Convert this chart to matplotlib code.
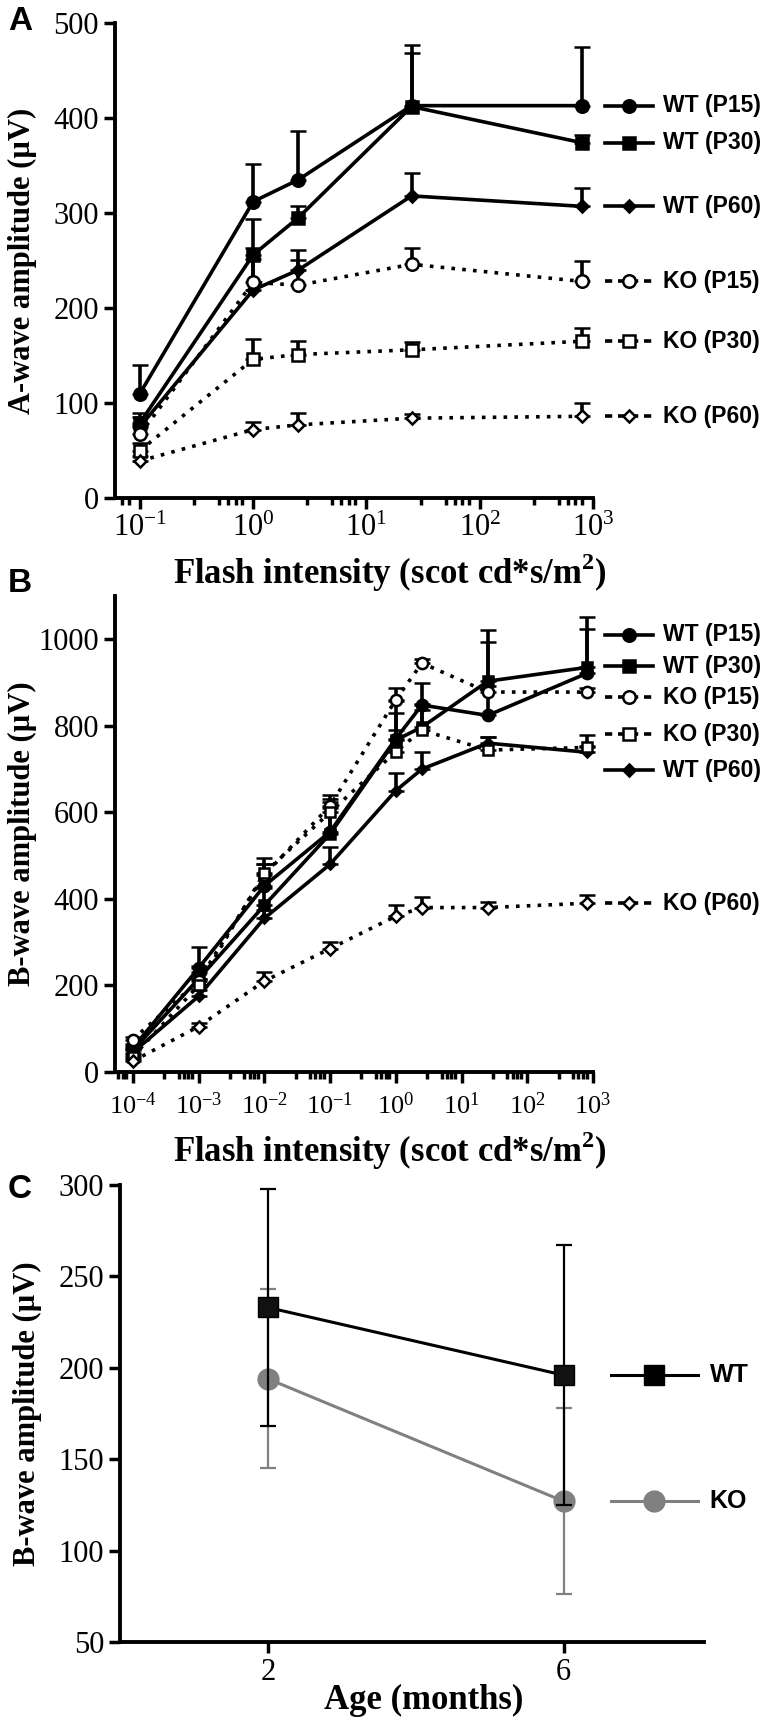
import numpy as np
import matplotlib
matplotlib.use("Agg")
import matplotlib.pyplot as plt
from matplotlib.ticker import LogLocator, NullFormatter, FixedLocator
from matplotlib.transforms import blended_transform_factory

plt.rcParams['font.family'] = ['Liberation Serif', 'DejaVu Serif']
plt.rcParams['mathtext.fontset'] = 'custom'
plt.rcParams['mathtext.rm'] = 'Liberation Serif'
plt.rcParams['mathtext.bf'] = 'Liberation Serif:bold'

# ---- panel A: a-wave vs flash intensity ----
a_x = [0.1, 1, 2.5, 25, 800]
a_wt15 = [110, 312, 335, 413, 413]
a_wt15_err = [30, 40, 51, 64, 62]
a_wt30 = [79, 256, 295, 412, 374]
a_wt30_err = [10, 38, 12, 56, 8]
a_wt60 = [75, 219, 240, 318, 307]
a_wt60_err = [10, 33, 21, 24, 19]
a_ko15 = [67, 227, 224, 246, 228]
a_ko15_err = [10, 36, 27, 17, 21]
a_ko30 = [50, 146, 151, 156, 165]
a_ko30_err = [8, 21, 14, 8, 14]
a_ko60 = [39, 72, 77, 84, 86]
a_ko60_err = [5, 8, 12, 4, 14]

# ---- panel B: b-wave vs flash intensity ----
b_x = [1e-4, 1e-3, 1e-2, 1e-1, 1, 2.5, 25, 800]
b_wt15 = [55, 240, 430, 555, 770, 848, 824, 921]
b_wt15_err = [10, 50, 65, 70, 60, 50, 170, 130]
b_wt30 = [50, 215, 385, 550, 767, 797, 903, 935]
b_wt30_err = [10, 30, 40, 60, 90, 40, 118, 88]
b_wt60 = [45, 175, 355, 480, 650, 700, 760, 739]
b_wt60_err = [8, 15, 20, 40, 40, 40, 15, 15]
b_ko15 = [75, 210, 455, 615, 860, 945, 878, 878]
b_ko15_err = [5, 20, 25, 25, 27, 9, 15, 10]
b_ko30 = [35, 200, 460, 600, 740, 790, 744, 750]
b_ko30_err = [5, 15, 20, 30, 50, 60, 30, 28]
b_ko60 = [25, 105, 210, 285, 360, 380, 380, 390]
b_ko60_err = [5, 8, 22, 15, 25, 25, 12, 18]

# ---- panel C: b-wave vs age ----
c_age = [2, 6]
c_wt = [233, 196]
c_wt_err = [65, 71]
c_ko = [194, 127]
c_ko_err = [49, 51]

group_names = ['WT (P15)', 'WT (P30)', 'WT (P60)', 'KO (P15)', 'KO (P30)', 'KO (P60)']

LW = 2.6
solid = dict(color='black', linestyle='-', linewidth=LW)
dotted = dict(color='black', linestyle=(0, (1, 2)), linewidth=LW)
styles = [
    dict(marker='o', mfc='black', ms=9, **solid),
    dict(marker='s', mfc='black', ms=8, **solid),
    dict(marker='D', mfc='black', ms=6, **solid),
    dict(marker='o', mfc='white', ms=9, **dotted),
    dict(marker='s', mfc='white', ms=8, **dotted),
    dict(marker='D', mfc='white', ms=6.5, **dotted),
]

sans_bold = dict(family=['Liberation Sans'], weight='bold')
TICK_FS = 22
YLABEL_FS = 22
XLABEL_FS = 25


def style_axes(ax):
    for s in ['top', 'right']:
        ax.spines[s].set_visible(False)
    for s in ['left', 'bottom']:
        ax.spines[s].set_linewidth(2.8)
    ax.tick_params(which='major', direction='out', length=8, width=2.5, labelsize=TICK_FS)
    ax.tick_params(which='minor', direction='out', length=5, width=2.5)


def draw_series(ax, x, ys, errs, ms_scale=1.0):
    for y, e, st in zip(ys, errs, styles):
        st = dict(st)
        st['ms'] = st['ms'] * ms_scale
        ax.errorbar(x, y, yerr=[np.zeros(len(e)), e], ecolor='black', elinewidth=LW,
                    capsize=6, capthick=LW, mec='black', mew=1.8, clip_on=False,
                    zorder=3, **st)


def end_label(ax, y, text, st, x0, x1, xt, fs=16.5):
    tr = blended_transform_factory(ax.transAxes, ax.transData)
    ls = st['linestyle'] if st['linestyle'] == '-' else (0, (2, 1.6))
    ax.plot([x0, x1], [y, y], transform=tr, clip_on=False, color=st['color'],
            lw=st['linewidth'], ls=ls)
    ax.plot([(x0 + x1) / 2], [y], transform=tr, clip_on=False, marker=st['marker'],
            ms=st['ms'], mfc=st['mfc'], mec='black', mew=1.8, ls='none')
    ax.text(xt, y, text, transform=tr, va='center', ha='left', fontsize=fs,
            **sans_bold)


def log_axis(ax, lo, hi):
    ax.set_xscale('log')
    ax.set_xlim(lo, hi)
    ax.xaxis.set_major_locator(LogLocator(base=10, numticks=20))
    ax.xaxis.set_minor_locator(LogLocator(base=10, subs=(3, 5, 6, 7, 8), numticks=20))
    ax.xaxis.set_minor_formatter(NullFormatter())


fig = plt.figure(figsize=(7.65, 17.25), dpi=100)
W, H = 765.0, 1725.0

# panel A
axA = fig.add_axes([115 / W, 1 - 498 / H, 478 / W, 475 / H])
style_axes(axA)
log_axis(axA, 10 ** -1.22, 1e3)
axA.set_ylim(0, 500)
axA.set_yticks([0, 100, 200, 300, 400, 500])
draw_series(axA, a_x, [a_wt15, a_wt30, a_wt60, a_ko15, a_ko30, a_ko60],
            [a_wt15_err, a_wt30_err, a_wt60_err, a_ko15_err, a_ko30_err, a_ko60_err])
for ys, name, st in zip([a_wt15, a_wt30, a_wt60, a_ko15, a_ko30, a_ko60], group_names, styles):
    end_label(axA, ys[-1], name, st, 1.026, 1.125, 1.146)
axA.set_ylabel('A-wave amplitude (µV)', fontsize=YLABEL_FS, fontweight='bold')
axA.yaxis.set_label_coords(-0.163, 0.5)
axA.set_xlabel('Flash intensity (scot cd*s/m$^\\mathregular{2}$)', fontsize=XLABEL_FS,
               fontweight='bold', va='top')
axA.xaxis.set_label_coords(0.575, -0.112)

# panel B
axB = fig.add_axes([115 / W, 1 - 1072 / H, 478 / W, 476 / H])
style_axes(axB)
log_axis(axB, 10 ** -4.27, 1e3)
axB.set_ylim(0, 1100)
axB.set_yticks([0, 200, 400, 600, 800, 1000])
draw_series(axB, b_x, [b_wt15, b_wt30, b_wt60, b_ko15, b_ko30, b_ko60],
            [b_wt15_err, b_wt30_err, b_wt60_err, b_ko15_err, b_ko30_err, b_ko60_err],
            ms_scale=0.9)
b_label_order = [0, 1, 3, 4, 2]
b_label_y = [1011, 938, 866, 781, 697]
for idx, ly in zip(b_label_order, b_label_y):
    end_label(axB, ly, group_names[idx], styles[idx], 1.026, 1.125, 1.146)
end_label(axB, b_ko60[-1], group_names[5], styles[5], 1.026, 1.125, 1.146)
axB.set_ylabel('B-wave amplitude (µV)', fontsize=YLABEL_FS, fontweight='bold')
axB.yaxis.set_label_coords(-0.163, 0.5)
axB.set_xlabel('Flash intensity (scot cd*s/m$^\\mathregular{2}$)', fontsize=XLABEL_FS,
               fontweight='bold', va='top')
axB.xaxis.set_label_coords(0.575, -0.12)
axB.tick_params(axis='x', which='major', labelsize=19, pad=7)

# panel C
axC = fig.add_axes([120 / W, 1 - 1642 / H, 584 / W, 457 / H])
style_axes(axC)
axC.set_xlim(0, 7.9)
axC.set_ylim(50, 300)
axC.xaxis.set_major_locator(FixedLocator(c_age))
axC.set_yticks([50, 100, 150, 200, 250, 300])
gray = '#808080'
axC.errorbar(c_age, c_ko, yerr=c_ko_err, color=gray, lw=2.2, marker='o', ms=15,
             mfc=gray, mec=gray, ecolor=gray, elinewidth=1.6, capsize=6, capthick=1.6,
             clip_on=False, zorder=3)
axC.errorbar(c_age, c_wt, yerr=c_wt_err, color='black', lw=2.2, marker='s', ms=14,
             mfc='#111111', mec='black', ecolor='black', elinewidth=1.6, capsize=6,
             capthick=1.6, clip_on=False, zorder=4)
trC = blended_transform_factory(axC.transAxes, axC.transData)
for y, name, col, mk, ms in [(c_wt[-1], 'WT', 'black', 's', 14), (c_ko[-1], 'KO', gray, 'o', 15)]:
    axC.plot([0.84, 0.99], [y, y], transform=trC, clip_on=False, color=col, lw=2.2)
    axC.plot([0.915], [y], transform=trC, clip_on=False, marker=mk, ms=ms, color=col)
    axC.text(1.01, y, name, transform=trC, va='center', ha='left', fontsize=18, **sans_bold)
axC.set_ylabel('B-wave amplitude (µV)', fontsize=YLABEL_FS, fontweight='bold')
axC.yaxis.set_label_coords(-0.133, 0.5)
axC.set_xlabel('Age (months)', fontsize=XLABEL_FS, fontweight='bold', va='top')
axC.xaxis.set_label_coords(0.52, -0.092)

# panel letters
for lab, y in [('A', 22), ('B', 584), ('C', 1190)]:
    fig.text(8 / W, 1 - y / H, lab, fontsize=24, va='center', ha='left',
             family=['Liberation Sans'], weight='bold')

fig.savefig('out.png', dpi=100)
